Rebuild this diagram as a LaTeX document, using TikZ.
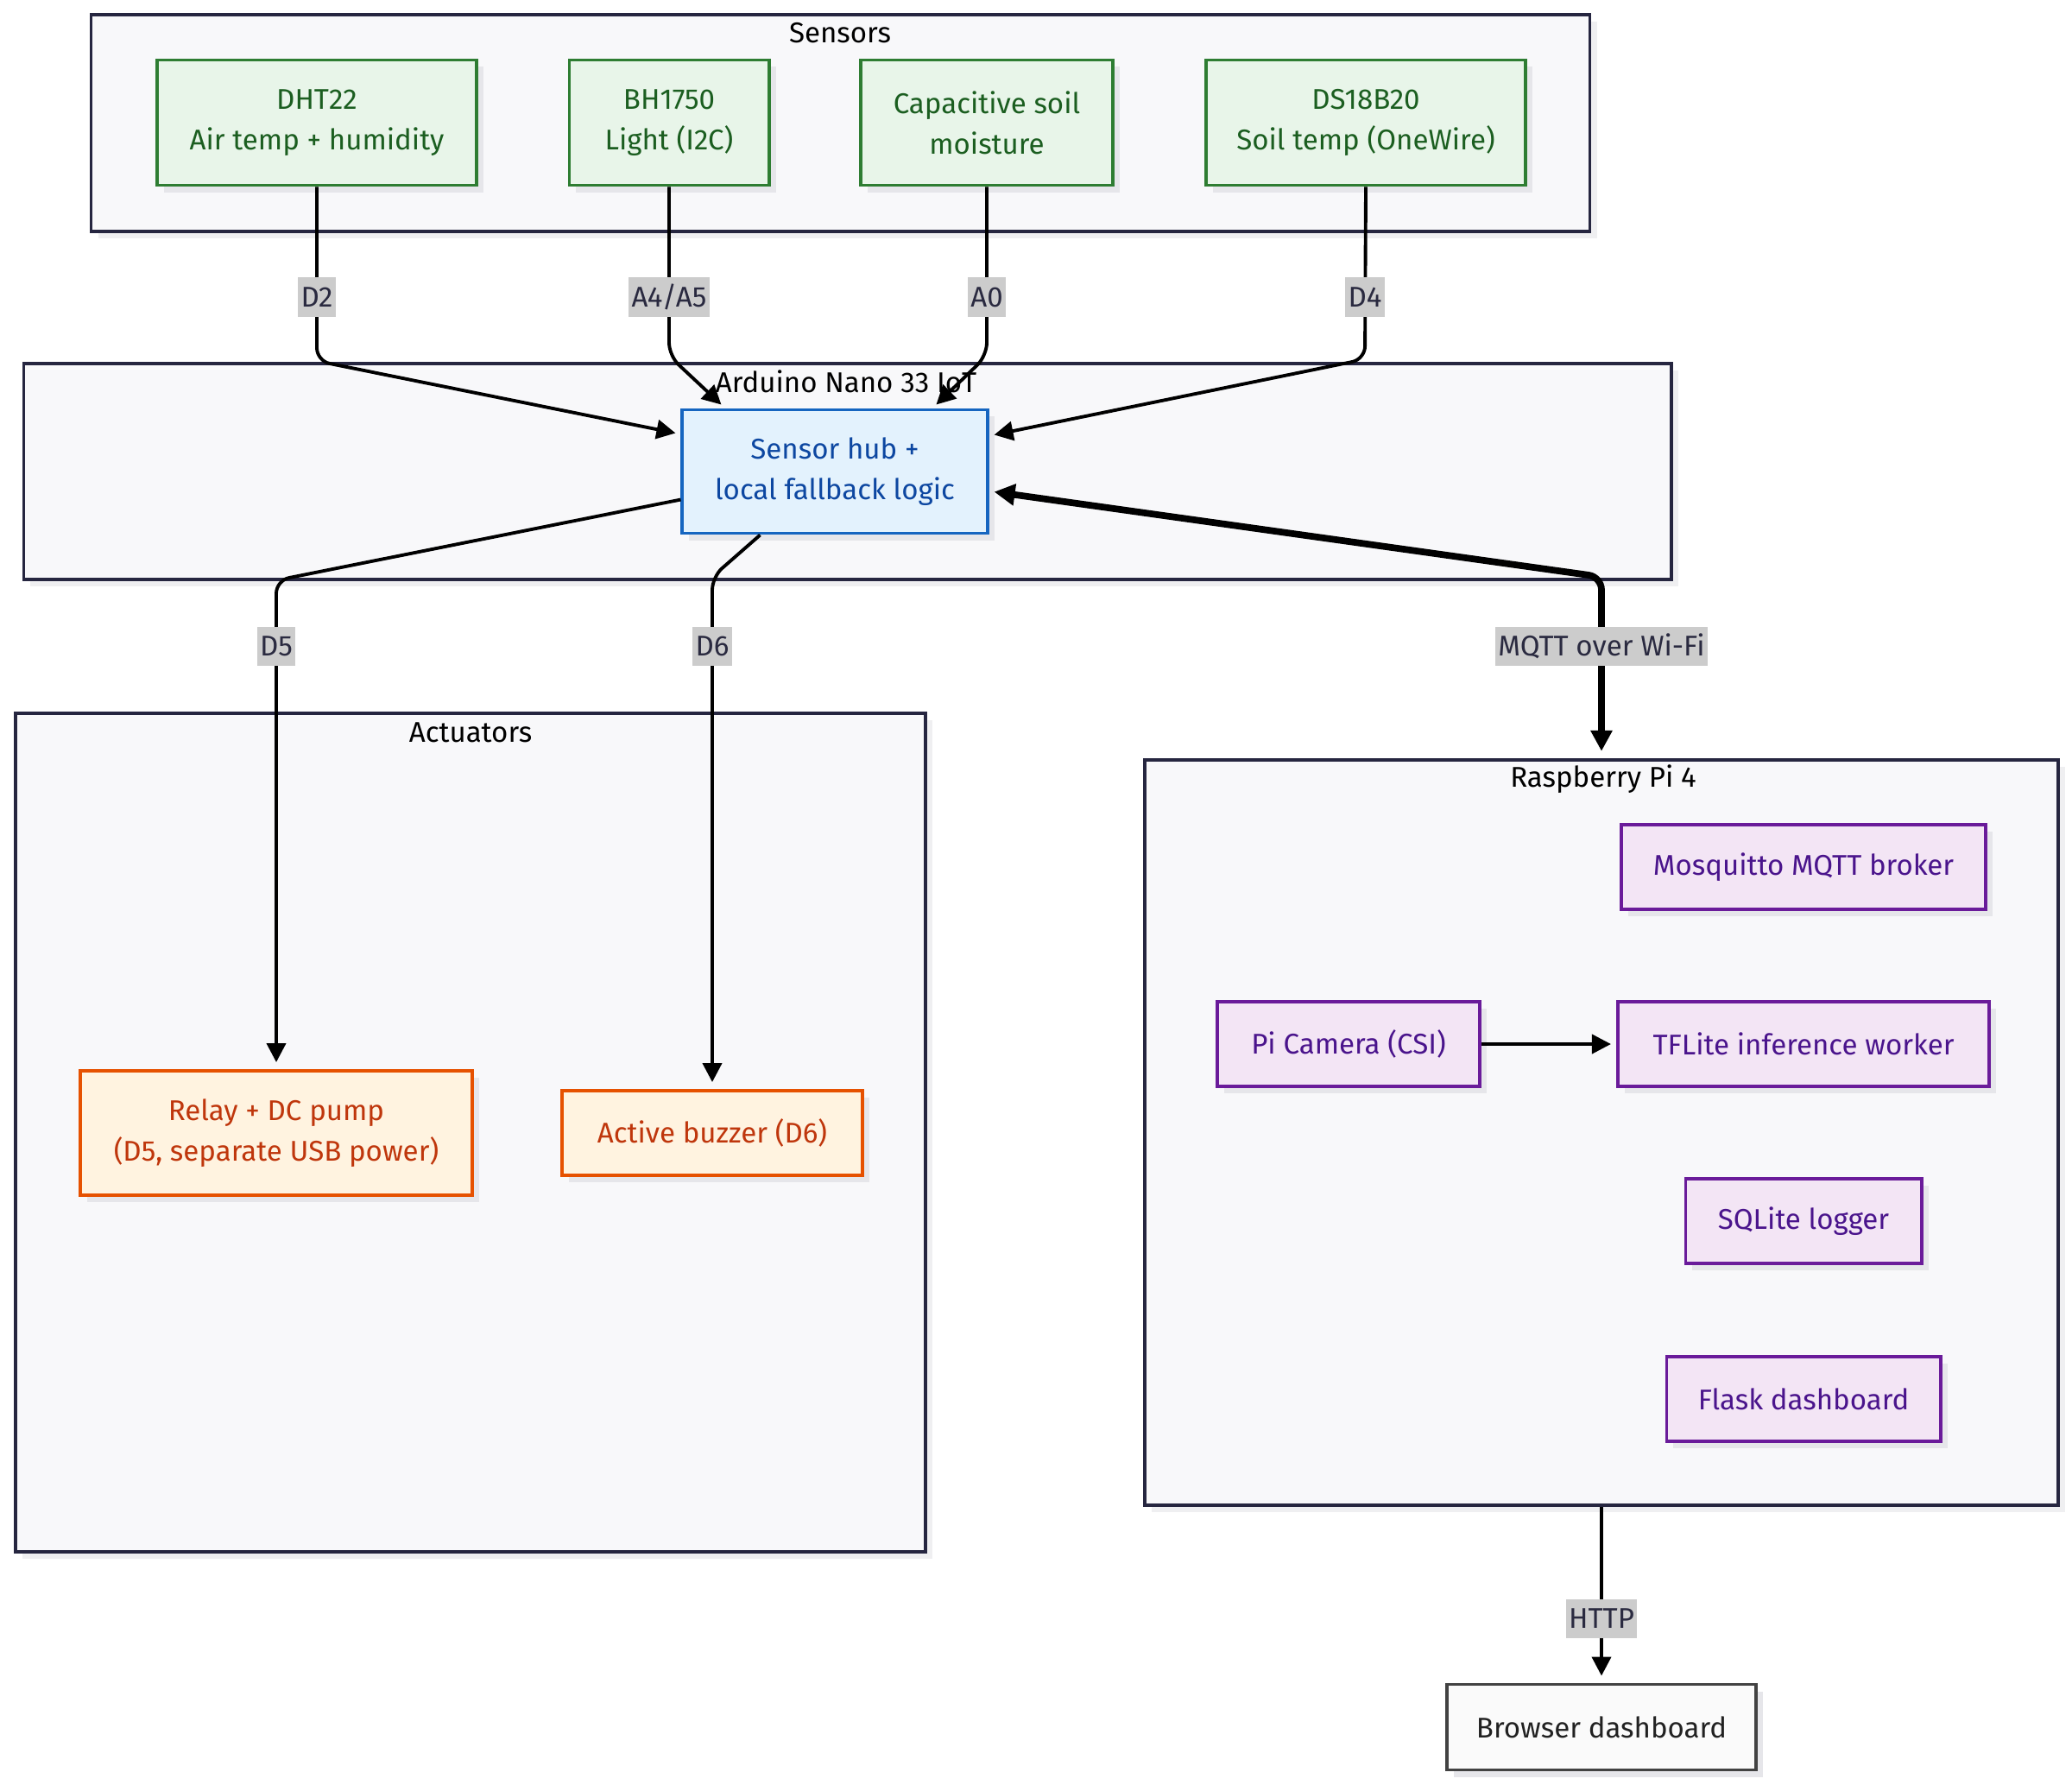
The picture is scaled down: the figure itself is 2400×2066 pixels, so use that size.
\documentclass[tikz,border=0pt]{standalone}
\usepackage{fontspec}
\setmainfont{Fira Sans}
\usetikzlibrary{arrows.meta,shadows,calc}
\definecolor{clusfill}{HTML}{F8F8FA}
\definecolor{clusdraw}{HTML}{262640}
\definecolor{clusshadow}{HTML}{EFEFF1}
\definecolor{boxshadow}{HTML}{E6E6EA}
\definecolor{sensfill}{HTML}{E8F5E9}
\definecolor{sensdraw}{HTML}{2E7D32}
\definecolor{senstext}{HTML}{1B5E20}
\definecolor{hubfill}{HTML}{E3F2FD}
\definecolor{hubdraw}{HTML}{1565C0}
\definecolor{hubtext}{HTML}{0D47A1}
\definecolor{actfill}{HTML}{FFF3E0}
\definecolor{actdraw}{HTML}{E65100}
\definecolor{acttext}{HTML}{BF360C}
\definecolor{pifill}{HTML}{F3E5F5}
\definecolor{pidraw}{HTML}{6A1B9A}
\definecolor{pitext}{HTML}{4A148C}
\definecolor{brfill}{HTML}{FAFAFA}
\definecolor{brdraw}{HTML}{424242}
\definecolor{brtext}{HTML}{212121}
\definecolor{labfill}{HTML}{CCCCCC}
\definecolor{labtext}{HTML}{2A2A40}
\begin{document}
\begin{tikzpicture}[x=0.01cm,y=-0.01cm,
  txt/.style={font=\fontsize{9.4}{13.3}\selectfont},
  box/.style={txt, draw, line width=1.1pt, align=center, inner sep=0pt,
    drop shadow={shadow xshift=0.08cm, shadow yshift=-0.08cm, fill=boxshadow, opacity=1}},
  sensor/.style={box, fill=sensfill, draw=sensdraw, text=senstext, minimum height=1.45cm},
  hubbox/.style={box, fill=hubfill, draw=hubdraw, text=hubtext},
  actbox/.style={box, fill=actfill, draw=actdraw, text=acttext},
  pibox/.style={box, fill=pifill, draw=pidraw, text=pitext, minimum height=0.98cm},
  brbox/.style={box, fill=brfill, draw=brdraw, text=brtext},
  cluster/.style={draw=clusdraw, fill=clusfill, line width=1.1pt, inner sep=0pt,
    drop shadow={shadow xshift=0.08cm, shadow yshift=-0.08cm, fill=clusshadow, opacity=1}},
  ctitle/.style={txt, text=black, inner sep=0pt},
  conn/.style={draw=black, line width=1.1pt, rounded corners=0.15cm,
    -{Triangle[length=0.22cm,width=0.22cm]}},
  mqtt/.style={draw=black, line width=2.2pt, rounded corners=0.15cm,
    {Triangle[length=0.24cm,width=0.24cm]}-{Triangle[length=0.24cm,width=0.24cm]}},
  lab/.style={txt, fill=labfill, text=labtext, inner xsep=1pt, inner ysep=0pt, minimum height=0.45cm}
]
\useasboundingbox (0,0) rectangle (2400,2066);

% clusters
\node[cluster, minimum width=17.35cm, minimum height=2.51cm] (sensors) at (973.5,142.5) {};
\node[cluster, minimum width=19.07cm, minimum height=2.50cm] (arduino) at (981.5,546) {};
\node[cluster, minimum width=10.54cm, minimum height=9.71cm] (actuators) at (545,1311.5) {};
\node[cluster, minimum width=10.57cm, minimum height=8.63cm] (pi) at (1855,1311.5) {};

\node[ctitle] (tsens) at (973,38) {Sensors};
\node[ctitle] (tard) at (980,442) {Arduino Nano 33 IoT};
\node[ctitle] (tact) at (545,848) {Actuators};
\node[ctitle] (tpi) at (1857,902) {Raspberry Pi 4};

% sensors
\node[sensor, minimum width=3.70cm] (dht) at (367,142) {DHT22\\Air temp + humidity};
\node[sensor, minimum width=2.31cm] (bh) at (775,142) {BH1750\\Light (I2C)};
\node[sensor, minimum width=2.91cm] (cap) at (1143,142) {Capacitive soil\\moisture};
\node[sensor, minimum width=3.69cm] (ds) at (1582,142) {DS18B20\\Soil temp (OneWire)};

% hub
\node[hubbox, minimum width=3.53cm, minimum height=1.43cm] (hub) at (967,546) {Sensor hub +\\local fallback logic};

% actuators
\node[actbox, minimum width=4.53cm, minimum height=1.44cm] (relay) at (320,1312) {Relay + DC pump\\(D5, separate USB power)};
\node[actbox, minimum width=3.48cm, minimum height=0.98cm] (buzzer) at (825,1312) {Active buzzer (D6)};

% pi
\node[pibox, minimum width=4.21cm] (mosq) at (2089,1004) {Mosquitto MQTT broker};
\node[pibox, minimum width=3.04cm] (cam) at (1562,1209) {Pi Camera (CSI)};
\node[pibox, minimum width=4.30cm] (tfl) at (2089,1209) {TFLite inference worker};
\node[pibox, minimum width=2.73cm] (sql) at (2089,1414) {SQLite logger};
\node[pibox, minimum width=3.17cm] (flask) at (2089,1620) {Flask dashboard};

% browser
\node[brbox, minimum width=3.57cm, minimum height=0.99cm] (browser) at (1855,2000) {Browser dashboard};

% connectors
\coordinate (c2) at (367,418);
\coordinate (c45) at (775,412);
\coordinate (c0) at (1143,412);
\coordinate (c4) at (1581,416);
\coordinate (c5) at (320,672);
\coordinate (c6) at (825,668);
\coordinate (cm) at (1855,668);

\draw[conn] (dht.south) -- (c2) -- ($(hub.north west)+(-6,29)$);
\draw[conn] (bh.south) -- (c45) -- ($(hub.north west)+(47,-4)$);
\draw[conn] (cap.south) -- (c0) -- ($(hub.north west)+(296,-4)$);
\draw[conn] (ds.south) -- (c4) -- ($(hub.north east)+(6,31)$);
\draw[conn] ($(hub.north west)+(0,106)$) -- (c5) -- ($(relay.north)+(0,-8)$);
\draw[conn] ($(hub.south west)+(92,0)$) -- (c6) -- ($(buzzer.north)+(0,-8)$);
\draw[mqtt] ($(hub.north east)+(6,97)$) -- (cm) -- ($(pi.north)+(0,-8)$);
\draw[conn] (cam.east) -- ($(tfl.west)+(-6,0)$);
\draw[conn] (pi.south) -- ($(browser.north)+(0,-8)$);

% labels
\node[lab] (l2) at (367,344) {D2};
\node[lab] (l45) at (775,344) {A4/A5};
\node[lab] (l0) at (1143,344) {A0};
\node[lab] (l4) at (1581,344) {D4};
\node[lab] (l5) at (320,748) {D5};
\node[lab] (l6) at (825,748) {D6};
\node[lab] (lm) at (1855,748) {MQTT over Wi-Fi};
\node[lab] (lh) at (1855,1874) {HTTP};
\end{tikzpicture}
\end{document}
